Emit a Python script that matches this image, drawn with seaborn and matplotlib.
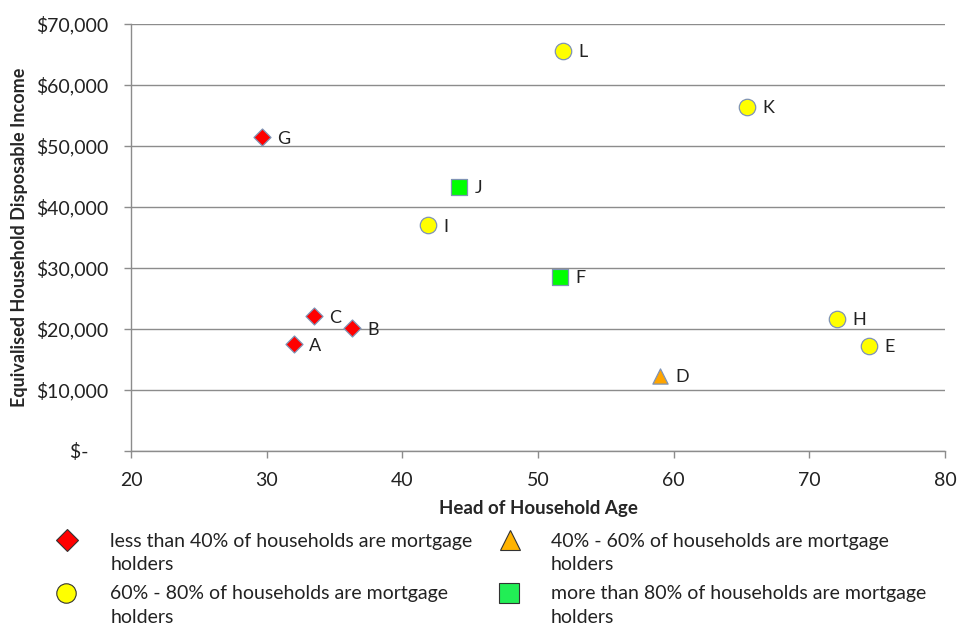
import matplotlib
matplotlib.use("Agg")
import matplotlib.pyplot as plt
import matplotlib.ticker as mticker
from matplotlib.lines import Line2D
import pandas as pd
import seaborn as sns

# data
LABELS = ["A", "B", "C", "D", "E", "F", "G", "H", "I", "J", "K", "L"]
AGE = [32.0, 36.3, 33.5, 59.0, 74.4, 51.6, 29.65, 72.05, 41.9, 44.2, 65.4, 51.85]
INCOME = [17500, 20100, 22100, 12300, 17200, 28600, 51400, 21700, 37000, 43300, 56400, 65600]
GROUP = ["lt40", "lt40", "lt40", "40_60", "60_80", "gt80", "lt40", "60_80", "60_80", "gt80", "60_80", "60_80"]

GROUP_ORDER = ["lt40", "40_60", "60_80", "gt80"]
GROUP_LABELS = {
    "lt40": "less than 40% of households are mortgage\nholders",
    "40_60": "40% - 60% of households are mortgage\nholders",
    "60_80": "60% - 80% of households are mortgage\nholders",
    "gt80": "more than 80% of households are mortgage\nholders",
}
GROUP_COLORS = {"lt40": "#FF0000", "40_60": "#FFA500", "60_80": "#FFFF00", "gt80": "#00FF00"}
LEGEND_COLORS = {"lt40": "#FF0000", "40_60": "#FFB300", "60_80": "#FFFF00", "gt80": "#22EE55"}
GROUP_MARKERS = {"lt40": "D", "40_60": "^", "60_80": "o", "gt80": "s"}
GROUP_SIZES = {"lt40": 75, "40_60": 120, "60_80": 140, "gt80": 140}
# legend slots (figure fractions): marker x, text x, row y
LEGEND_SLOTS = {
    "lt40": (0.070, 0.115, 0.145),
    "60_80": (0.069, 0.115, 0.062),
    "40_60": (0.531, 0.574, 0.145),
    "gt80": (0.530, 0.574, 0.062),
}

df = pd.DataFrame({"label": LABELS, "age": AGE, "income": INCOME, "group": GROUP})

sns.set_theme(style="white")
plt.rcParams["font.family"] = ["Lato", "DejaVu Sans"]

fig = plt.figure(figsize=(9.6, 6.32), dpi=100)
ax = fig.add_axes([0.1365, 0.2864, 0.8479, 0.6756])

for grp in GROUP_ORDER:
    sub = df[df["group"] == grp]
    sns.scatterplot(
        data=sub,
        x="age",
        y="income",
        marker=GROUP_MARKERS[grp],
        color=GROUP_COLORS[grp],
        s=GROUP_SIZES[grp],
        edgecolor="#7F93B5",
        linewidth=0.9,
        ax=ax,
        zorder=3,
        legend=False,
    )

for _, row in df.iterrows():
    ax.annotate(
        row["label"],
        (row["age"], row["income"]),
        xytext=(11, -1),
        textcoords="offset points",
        va="center",
        ha="left",
        fontsize=13,
        color="#222222",
    )

ax.set_xlim(20, 80)
ax.set_ylim(0, 70000)
ax.xaxis.set_major_locator(mticker.MultipleLocator(10))
ax.yaxis.set_major_locator(mticker.MultipleLocator(10000))
ax.yaxis.set_major_formatter(
    mticker.FuncFormatter(lambda v, _: "$-    " if v == 0 else f"${v:,.0f}")
)
ax.grid(True, axis="y", color="#8C8C8C", linewidth=1.0)
ax.grid(False, axis="x")
ax.set_axisbelow(True)
for side in ["top", "right"]:
    ax.spines[side].set_visible(False)
for side in ["left", "bottom"]:
    ax.spines[side].set_color("#8C8C8C")
    ax.spines[side].set_linewidth(1.0)
ax.tick_params(axis="both", which="major", length=5, width=1, color="#8C8C8C",
               labelsize=14, labelcolor="#222222", direction="out",
               left=True, bottom=True)
ax.tick_params(axis="y", pad=11)
ax.tick_params(axis="x", pad=10)

ax.set_xlabel("Head of Household Age", fontsize=13.5, fontweight="bold", labelpad=8)
ax.set_ylabel("Equivalised Household Disposable Income", fontsize=13, fontweight="bold", labelpad=6)

# legend drawn as markers + wrapped text, marker level with the first line
for grp in GROUP_ORDER:
    mx, tx, ty = LEGEND_SLOTS[grp]
    fig.add_artist(Line2D([mx], [ty], transform=fig.transFigure, linestyle="none",
                          marker=GROUP_MARKERS[grp],
                          markersize=11 if grp == "lt40" else 14,
                          markerfacecolor=LEGEND_COLORS[grp], markeredgecolor="#333333",
                          markeredgewidth=0.8))
    fig.text(tx, ty + 0.012, GROUP_LABELS[grp], ha="left", va="top", fontsize=14,
             color="#222222", linespacing=1.45)

fig.savefig("out.png", dpi=100)
